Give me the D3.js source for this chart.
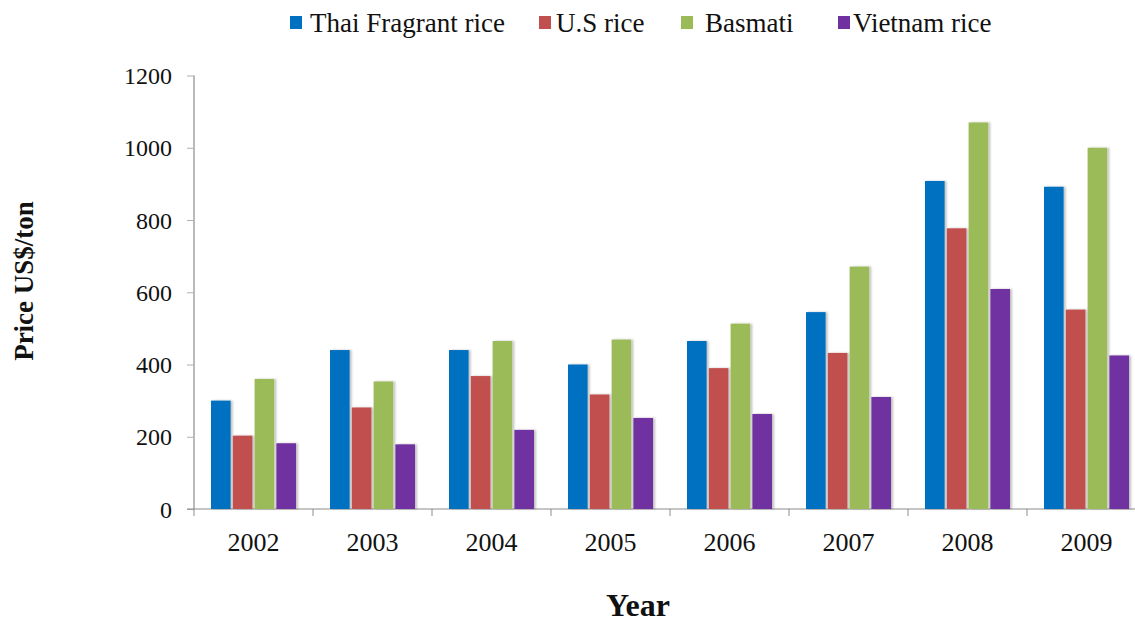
<!DOCTYPE html>
<html>
<head>
<meta charset="utf-8">
<script src="https://cdn.jsdelivr.net/npm/d3@7"></script>
<style>
  html, body { margin: 0; padding: 0; background: #fff; }
  svg { display: block; }
  text { font-family: "Liberation Serif", "Times New Roman", serif; fill: #111; }
</style>
</head>
<body>
<svg id="chart" width="1135" height="623"></svg>
<script>
// Rice export prices, US$ per ton
const years = ["2002", "2003", "2004", "2005", "2006", "2007", "2008", "2009"];
const seriesNames = ["Thai Fragrant rice", "U.S rice", "Basmati", "Vietnam rice"];
const thaiFragrant = [300, 440, 440, 400, 465, 545, 908, 892];
const usRice       = [203, 281, 368, 317, 390, 432, 777, 552];
const basmati      = [360, 353, 465, 469, 513, 671, 1070, 1000];
const vietnamRice  = [182, 179, 219, 252, 263, 310, 609, 425];
const yTicks = [0, 200, 400, 600, 800, 1000, 1200];
const colors = ["#0070C0", "#C0504D", "#9BBB59", "#7030A0"];

const seriesValues = [thaiFragrant, usRice, basmati, vietnamRice];
const rows = years.map((y, i) => ({
  year: y,
  values: seriesNames.map((s, k) => ({ series: s, value: seriesValues[k][i], color: colors[k] }))
}));

const svg = d3.select("#chart");

const x0 = d3.scaleBand().domain(years).range([194, 1146]).paddingInner(0).paddingOuter(0);
const x1 = d3.scaleBand().domain(seriesNames).range([17, 102]).paddingInner(0.1);
const y = d3.scaleLinear().domain([0, 1200]).range([509, 75.5]);

// soft shadow behind bars
const defs = svg.append("defs");
const f = defs.append("filter").attr("id", "shadow").attr("x", "-30%").attr("y", "-10%").attr("width", "160%").attr("height", "120%");
f.append("feGaussianBlur").attr("in", "SourceAlpha").attr("stdDeviation", 1.2);
f.append("feOffset").attr("dx", 1.5).attr("dy", 0).attr("result", "ob");
f.append("feComponentTransfer").append("feFuncA").attr("type", "linear").attr("slope", 0.25);
const fm = f.append("feMerge");
fm.append("feMergeNode");
fm.append("feMergeNode").attr("in", "SourceGraphic");

// y axis
const yAxis = d3.axisLeft(y).tickValues(yTicks).tickSize(7).tickPadding(15).tickFormat(d3.format("d"));
const gy = svg.append("g").attr("transform", "translate(194,0)").call(yAxis);
gy.attr("font-family", null).attr("font-size", null);
gy.select(".domain").attr("stroke", "#8c8c8c").attr("stroke-width", 1.2).attr("d", "M0,509V75.5");
gy.selectAll(".tick line").attr("stroke", "#b0b0b0");
gy.selectAll(".tick text").style("font-size", "24px").attr("fill", "#111").attr("dy", "0.34em");

// x axis
const xAxis = d3.axisBottom(x0).tickSize(0).tickPadding(0);
const gx = svg.append("g").attr("transform", "translate(0,509)").call(xAxis);
gx.attr("font-family", null).attr("font-size", null);
gx.select(".domain").attr("stroke", "#8c8c8c").attr("stroke-width", 1.2).attr("d", "M187,0H1146");
gx.selectAll(".tick text").style("font-size", "26px").attr("fill", "#111").attr("y", 42).attr("dy", null);
// category separators
gx.selectAll(".sep").data(years.concat(["end"])).enter().append("line")
  .attr("class", "sep")
  .attr("x1", (d, i) => 194 + i * x0.step()).attr("x2", (d, i) => 194 + i * x0.step())
  .attr("y1", 0).attr("y2", 7).attr("stroke", "#8c8c8c");

// bars
const groups = svg.append("g").selectAll("g").data(rows).enter().append("g")
  .attr("transform", d => `translate(${x0(d.year)},0)`);
groups.selectAll("rect").data(d => d.values).enter().append("rect")
  .attr("x", d => x1(d.series))
  .attr("y", d => y(d.value))
  .attr("width", x1.bandwidth())
  .attr("height", d => y(0) - y(d.value))
  .attr("fill", d => d.color)
  .attr("filter", "url(#shadow)");

// legend
const legendSwatchX = [290, 539, 681, 838];
const legendTextX = [310, 556, 705, 853];
const lg = svg.append("g").selectAll("g").data(seriesNames).enter().append("g");
lg.append("rect").attr("x", (d, i) => legendSwatchX[i]).attr("y", 16).attr("width", 12).attr("height", 13)
  .attr("fill", (d, i) => colors[i]);
lg.append("text").attr("x", (d, i) => legendTextX[i]).attr("y", 32).style("font-size", "27px").text(d => d);

// axis titles
svg.append("text").attr("x", 638).attr("y", 616).attr("text-anchor", "middle")
  .style("font-size", "32px").style("font-weight", "bold").text("Year");
svg.append("text").attr("transform", "translate(33,281) rotate(-90)").attr("text-anchor", "middle")
  .style("font-size", "27px").style("font-weight", "bold").text("Price US$/ton");
</script>
</body>
</html>
